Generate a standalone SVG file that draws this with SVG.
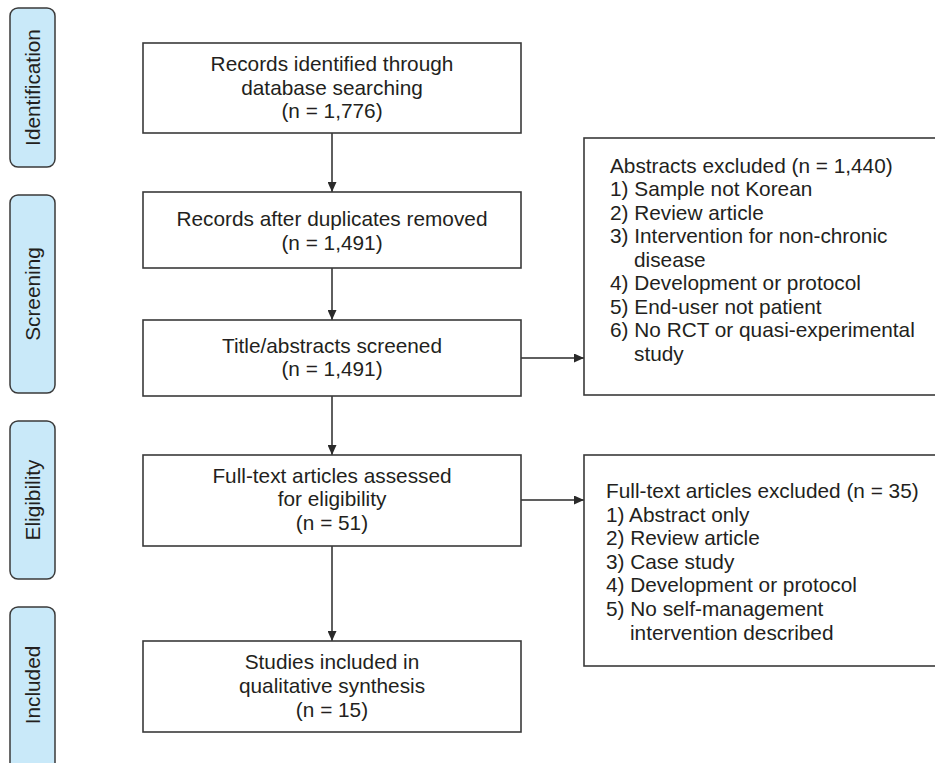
<svg xmlns="http://www.w3.org/2000/svg" width="935" height="763" viewBox="0 0 935 763">
<style>
.bg{fill:#ffffff}
.box{fill:#ffffff;stroke:#3a3a3a;stroke-width:1.6}
.side{fill:#c9e9f9;stroke:#3a3a3a;stroke-width:1.5}
text{font-family:"Liberation Sans",Arial,Helvetica,sans-serif;font-size:20.8px;fill:#231f20}
.c{text-anchor:middle}
.conn{stroke:#2a2a2a;stroke-width:1.5;fill:none;marker-end:url(#ah)}
</style>
<defs>
<marker id="ah" markerWidth="10" markerHeight="9" refX="10" refY="4.5" orient="auto" markerUnits="userSpaceOnUse">
<path d="M0,0 L10,4.5 L0,9 z" fill="#2a2a2a"/>
</marker>
</defs>
<rect class="bg" x="0" y="0" width="935" height="763"/>

<g id="stage-identification">
<rect class="side" x="10" y="8" width="45" height="159" rx="8"/>
<text class="c" transform="translate(40,87.5) rotate(-90)">Identification</text>
</g>
<g id="stage-screening">
<rect class="side" x="10" y="195" width="45" height="198" rx="8"/>
<text class="c" transform="translate(40,294) rotate(-90)">Screening</text>
</g>
<g id="stage-eligibility">
<rect class="side" x="10" y="421" width="45" height="158" rx="8"/>
<text class="c" transform="translate(40,500) rotate(-90)">Eligibility</text>
</g>
<g id="stage-included">
<rect class="side" x="10" y="607" width="45" height="180" rx="8"/>
<text class="c" transform="translate(40,685) rotate(-90)">Included</text>
</g>

<g id="connectors">
<line class="conn" x1="332" y1="133" x2="332" y2="192"/>
<line class="conn" x1="332" y1="268" x2="332" y2="320"/>
<line class="conn" x1="332" y1="396" x2="332" y2="455"/>
<line class="conn" x1="332" y1="546" x2="332" y2="641"/>
<line class="conn" x1="521" y1="358" x2="584" y2="358"/>
<line class="conn" x1="521" y1="500" x2="584" y2="500"/>
</g>

<g id="identified">
<rect class="box" x="143" y="43" width="378" height="90"/>
<text class="c" x="332" y="71">Records identified through</text>
<text class="c" x="332" y="94.5">database searching</text>
<text class="c" x="332" y="118">(n = 1,776)</text>
</g>
<g id="duplicates-removed">
<rect class="box" x="143" y="192" width="378" height="76"/>
<text class="c" x="332" y="226">Records after duplicates removed</text>
<text class="c" x="332" y="249.5">(n = 1,491)</text>
</g>
<g id="screened">
<rect class="box" x="143" y="320" width="378" height="76"/>
<text class="c" x="332" y="352.5">Title/abstracts screened</text>
<text class="c" x="332" y="375.5">(n = 1,491)</text>
</g>
<g id="assessed">
<rect class="box" x="143" y="455" width="378" height="91"/>
<text class="c" x="332" y="482.5">Full-text articles assessed</text>
<text class="c" x="332" y="506">for eligibility</text>
<text class="c" x="332" y="530">(n = 51)</text>
</g>
<g id="included">
<rect class="box" x="143" y="641" width="378" height="91"/>
<text class="c" x="332" y="669">Studies included in</text>
<text class="c" x="332" y="693">qualitative synthesis</text>
<text class="c" x="332" y="717">(n = 15)</text>
</g>

<g id="abstracts-excluded">
<rect class="box" x="584" y="138" width="360" height="257"/>
<text x="610" y="172.5">Abstracts excluded (n = 1,440)</text>
<text x="610" y="196">1) Sample not Korean</text>
<text x="610" y="219.5">2) Review article</text>
<text x="610" y="243">3) Intervention for non-chronic</text>
<text x="634" y="266.5">disease</text>
<text x="610" y="290">4) Development or protocol</text>
<text x="610" y="313.5">5) End-user not patient</text>
<text x="610" y="337">6) No RCT or quasi-experimental</text>
<text x="634" y="360.5">study</text>
</g>
<g id="fulltext-excluded">
<rect class="box" x="584" y="455" width="360" height="211"/>
<text x="606" y="497.5">Full-text articles excluded (n = 35)</text>
<text x="606" y="521.5">1) Abstract only</text>
<text x="606" y="545">2) Review article</text>
<text x="606" y="568.5">3) Case study</text>
<text x="606" y="592">4) Development or protocol</text>
<text x="606" y="615.5">5) No self-management</text>
<text x="630" y="639.5">intervention described</text>
</g>
</svg>
